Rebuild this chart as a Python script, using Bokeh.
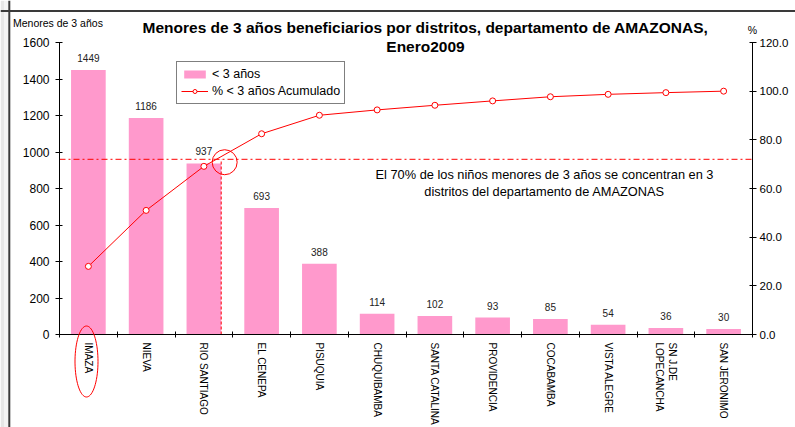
import numpy as np
from bokeh.plotting import figure
from bokeh.models import (Range1d, LinearAxis, FixedTicker, Label, Span, Legend,
                          LegendItem, PolyAnnotation, NumeralTickFormatter)
from bokeh.core.properties import value
from bokeh.embed import file_html
from bokeh.resources import INLINE

# ---------------- data ----------------
districts = ["IMAZA", "NIEVA", "RIO SANTIAGO", "EL CENEPA", "PISUQUIA", "CHUQUIBAMBA",
             "SANTA CATALINA", "PROVIDENCIA", "COCABAMBA", "VISTA ALEGRE",
             "SN J.DE\nLOPECANCHA", "SAN JERONIMO"]
counts = [1449, 1186, 937, 693, 388, 114, 102, 93, 85, 54, 36, 30]
cum_pct = [28.0, 51.0, 69.1, 82.5, 90.1, 92.3, 94.2, 96.0, 97.7, 98.7, 99.4, 100.0]
left_ticks = [0, 200, 400, 600, 800, 1000, 1200, 1400, 1600]
right_ticks = [0, 20, 40, 60, 80, 100, 120]
left_max = 1600
right_max = 120
cut_pct = 72.0          # level of the dash-dot reference line (right scale)
highlight_idx = 2       # RIO SANTIAGO: 3rd district closes the 70 %

title_lines = ["Menores de 3 años beneficiarios por distritos, departamento de AMAZONAS,",
               "Enero2009"]
note_lines = ["El 70% de los niños menores de 3 años se concentran en 3",
              "distritos del departamento de AMAZONAS"]

FONT = "Liberation Sans"
PINK = "#FF99CC"

# ---------------- layout (page pixels) ----------------
W, H = 795, 427                 # figure fills the window (page has no margin)
PAGE_L, PAGE_T = 0, 0
AX_L_PX, AX_R_PX = 59, 752      # page x of the two value axes
ZERO_PX, TOP_PX = 334, 42       # page y of 0 and of the top tick
n = len(districts)
cat_px = (AX_R_PX - AX_L_PX) / n
cnt_per_px = left_max / (ZERO_PX - TOP_PX)
pct_per_px = right_max / (ZERO_PX - TOP_PX)

def dx(px):
    return (px - AX_L_PX) / cat_px

def dy(py):
    return (ZERO_PX - py) * cnt_per_px

x_range = Range1d(dx(PAGE_L), dx(PAGE_L + W))
y_range = Range1d(dy(PAGE_T + H), dy(PAGE_T))
pct_range = Range1d(-(PAGE_T + H - ZERO_PX) * pct_per_px, (ZERO_PX - PAGE_T) * pct_per_px)

xs = [i + 0.5 for i in range(n)]
bar_w = 0.6

p = figure(width=W, height=H, x_range=x_range, y_range=y_range,
           output_backend="svg", toolbar_location=None,
           min_border_left=0, min_border_right=0, min_border_top=0, min_border_bottom=0)
p.extra_y_ranges = {"pct": pct_range}
p.xgrid.visible = False
p.ygrid.visible = False
p.outline_line_color = None
p.background_fill_color = "white"
p.border_fill_color = "white"

# window strip and chart-area border (top and left edge of the spreadsheet frame)
p.add_layout(Span(location=dx(2), dimension="height", line_color="#e6e6e6", line_width=4))
p.add_layout(Span(location=dx(6), dimension="height", line_color="#f3f3f3", line_width=4))
p.add_layout(Span(location=dx(8.8), dimension="height", line_color="#3a3a3a", line_width=2))
p.add_layout(Span(location=dy(10.5), dimension="width", line_color="#3a3a3a", line_width=2))

# bottom axis
xa = p.xaxis[0]
xa.fixed_location = 0
xa.bounds = (0, n)
xa.ticker = FixedTicker(ticks=xs, minor_ticks=list(range(n + 1)))
xa.major_label_overrides = {x: d for x, d in zip(xs, districts)}
xa.major_label_orientation = "vertical"
xa.major_tick_in = 0
xa.major_tick_out = 0
xa.minor_tick_in = 3
xa.minor_tick_out = 3
xa.minor_tick_line_color = "black"
xa.axis_line_color = "black"
xa.major_label_standoff = 5
xa.major_label_text_font = FONT
xa.major_label_text_font_size = "10px"
xa.major_label_text_color = "black"

# left axis
ya = p.yaxis[0]
ya.fixed_location = 0
ya.bounds = (0, left_max)
ya.ticker = FixedTicker(ticks=left_ticks)
ya.minor_tick_line_color = None
ya.major_tick_in = 3
ya.major_tick_out = 4
ya.axis_line_color = "black"
ya.major_tick_line_color = "black"
ya.major_label_standoff = 6
ya.major_label_text_font = FONT
ya.major_label_text_font_size = "12px"
ya.major_label_text_color = "black"

# right axis
ra = LinearAxis(y_range_name="pct", ticker=FixedTicker(ticks=right_ticks),
                formatter=NumeralTickFormatter(format="0.0"))
ra.fixed_location = n
ra.bounds = (0, right_max)
ra.minor_tick_line_color = None
ra.major_tick_in = 3
ra.major_tick_out = 4
ra.axis_line_color = "black"
ra.major_tick_line_color = "black"
ra.major_label_standoff = 3
ra.major_label_text_font = FONT
ra.major_label_text_font_size = "11.5px"
ra.major_label_text_color = "black"
p.add_layout(ra, "right")

# bars
bars = p.vbar(x=xs, top=counts, width=bar_w, fill_color=PINK, line_color=None)
p.text(x=xs, y=counts, text=[str(c) for c in counts], text_align="center",
       text_baseline="bottom", y_offset=-8, text_font=value(FONT),
       text_font_size="10px", text_color="#222222")

# cumulative line
ln = p.line(xs, cum_pct, y_range_name="pct", line_color="red", line_width=1)
mk = p.scatter(xs, cum_pct, y_range_name="pct", size=6, marker="circle",
               fill_color="white", line_color="red", line_width=1)

# reference lines
p.segment(x0=[0], y0=[cut_pct], x1=[n], y1=[cut_pct], y_range_name="pct",
          line_color="red", line_width=1, line_dash="6 3 2 3")
edge = xs[highlight_idx] + bar_w / 2
p.segment(x0=[edge], y0=[0], x1=[edge], y1=[cut_pct], y_range_name="pct",
          line_color="red", line_width=1, line_dash="3 2")
p.scatter(x=[edge + 0.06], y=[cut_pct - 1.2], y_range_name="pct", size=25,
          marker="circle", fill_color=None, line_color="red", line_width=1)

# ellipse around IMAZA label
t = np.linspace(0, 2 * np.pi, 72)
p.add_layout(PolyAnnotation(xs=list(dx(86) + 11.5 / cat_px * np.cos(t)),
                            ys=list(dy(361) + 35.5 * cnt_per_px * np.sin(t)),
                            fill_color=None, fill_alpha=0, line_color="red",
                            line_alpha=1, line_width=1))

# legend
legend = Legend(items=[LegendItem(label="< 3 años", renderers=[bars]),
                       LegendItem(label="% < 3 años Acumulado", renderers=[ln, mk])],
                location=(176 - PAGE_L, PAGE_T + H - 104), orientation="vertical",
                border_line_color="black", border_line_width=1,
                background_fill_color="white", background_fill_alpha=1,
                padding=4, spacing=1, margin=0, glyph_width=27, glyph_height=10,
                label_height=16, label_standoff=4,
                label_text_font=FONT, label_text_font_size="12.5px",
                label_text_color="black")
p.add_layout(legend, "center")

# texts
def add_label(txt, px, py, size, align="center", bold=False):
    p.add_layout(Label(x=dx(px), y=dy(py), text=txt,
                       text_align=align, text_baseline="middle", text_font=FONT,
                       text_font_size=size, text_color="black",
                       text_font_style="bold" if bold else "normal"))

add_label(title_lines[0], 425, 27, "15.5px", bold=True)
add_label(title_lines[1], 425, 46, "15.5px", bold=True)
add_label("Menores de 3 años", 12.5, 22.5, "10.5px", align="left")
add_label("%", 752, 29.5, "10.5px")
add_label(note_lines[0], 544, 173.5, "12.8px")
add_label(note_lines[1], 544, 191, "12.8px")

open("out.html", "w").write(file_html(p, INLINE))
